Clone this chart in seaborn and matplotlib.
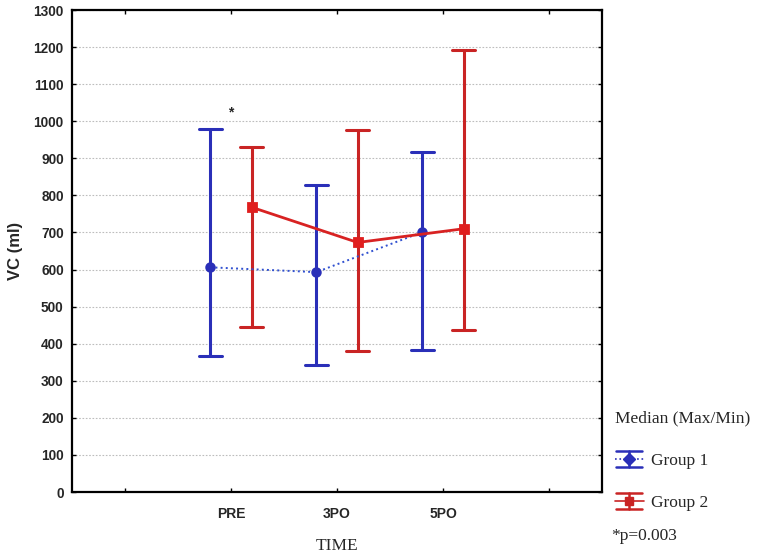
import numpy as np
import pandas as pd
import matplotlib
matplotlib.use("Agg")
import matplotlib.pyplot as plt
import seaborn as sns
from matplotlib.lines import Line2D
from matplotlib.legend_handler import HandlerBase

# ---- data ----
times = ["PRE", "3PO", "5PO"]
groups = ["Group 1", "Group 2"]
g1_median = [606, 593, 701]
g1_max = [980, 827, 918]
g1_min = [368, 343, 384]
g2_median = [768, 673, 710]
g2_max = [931, 976, 1193]
g2_min = [446, 379, 438]
yticks = list(range(0, 1301, 100))

rows = []
for g, med, mx, mn in [(groups[0], g1_median, g1_max, g1_min),
                       (groups[1], g2_median, g2_max, g2_min)]:
    for t, a, b, c in zip(times, mn, med, mx):
        for v in (a, b, c):
            rows.append({"time": t, "group": g, "vc": v})
df = pd.DataFrame(rows)

BLUE = "#2a2fb8"
RED = "#c92424"

sns.set_theme(style="white")
plt.rcParams["font.family"] = ["Liberation Sans", "DejaVu Sans"]

fig = plt.figure(figsize=(7.71, 5.54), dpi=100)
ax = fig.add_axes([72 / 771, 62 / 554, 530 / 771, 482 / 554])

sns.pointplot(data=df, x="time", y="vc", hue="group", order=times,
              hue_order=groups, estimator="median",
              errorbar=lambda v: (v.min(), v.max()),
              dodge=0.39, markers=["o", "s"], linestyles=[":", "-"],
              palette=[BLUE, RED], capsize=0.22,
              err_kws={"linewidth": 2.2}, markersize=6,
              legend=False, ax=ax)

for ln in ax.lines:
    m = ln.get_marker()
    if m not in (None, "None", "", " "):
        c = matplotlib.colors.to_hex(ln.get_color())
        if c.lower() == BLUE.lower():
            ln.set_linewidth(1.4)
            ln.set_color("#3050d0")
            ln.set_markerfacecolor(BLUE)
            ln.set_markeredgecolor(BLUE)
            ln.set_markersize(5.5)
        else:
            ln.set_linewidth(2.0)
            ln.set_color("#d82222")
            ln.set_markerfacecolor("#e01e1e")
            ln.set_markeredgecolor("#e01e1e")
        ln.set_zorder(5)

ax.set_xlim(-1.5, 3.5)
ax.set_ylim(0, 1300)
ax.set_xticks([-1, 0, 1, 2, 3])
ax.set_xticklabels(["", "PRE", "3PO", "5PO", ""], fontweight="bold", fontsize=10)
ax.set_yticks(yticks)
ax.set_yticklabels([str(v) for v in yticks], fontweight="bold", fontsize=9.8)
ax.tick_params(axis="both", direction="in", length=3, width=1, color="black",
               top=True, right=True, bottom=True, left=True)
ax.tick_params(axis="x", pad=11)
ax.tick_params(axis="y", pad=6)
ax.yaxis.grid(True, linestyle=(0, (1.5, 1.5)), color="#bdbdbd", linewidth=0.8)
ax.xaxis.grid(False)
for s in ax.spines.values():
    s.set_visible(True)
    s.set_color("black")
    s.set_linewidth(1.6)
ax.set_xlabel("")
ax.set_ylabel("VC (ml)", fontweight="bold", fontsize=12)
ax.yaxis.set_label_coords((23 - 72) / 530, 0.5)

ax.text(0, 1005, "*", ha="center", va="bottom", fontsize=10, fontweight="bold")

fig.text(337 / 771, 1 - 546 / 554, "TIME", ha="center", va="center",
         family="Liberation Serif", fontsize=12.5)


class ErrHandler(HandlerBase):
    def create_artists(self, legend, orig_handle, xdescent, ydescent,
                       width, height, fontsize, trans):
        col = orig_handle.get_color()
        mk = orig_handle.get_marker()
        ls = orig_handle.get_linestyle()
        x0, x1 = -xdescent, -xdescent + width
        xc = (x0 + x1) / 2
        yc = -ydescent + height / 2
        h = height * 0.45
        arts = [
            Line2D([x0 + 1, x1 - 1], [yc + h, yc + h], color=col, lw=1.8),
            Line2D([x0 + 1, x1 - 1], [yc - h, yc - h], color=col, lw=1.8),
            Line2D([xc, xc], [yc - h, yc + h], color=col, lw=1.8),
            Line2D([x0, x1], [yc, yc], color=col, lw=1.2, linestyle=ls),
            Line2D([xc], [yc], color=col, marker=mk, markersize=6,
                   linestyle="None"),
        ]
        for a in arts:
            a.set_transform(trans)
        return arts


handles = [Line2D([], [], color=BLUE, marker="D", linestyle=":"),
           Line2D([], [], color=RED, marker="s", linestyle="-")]
leg = fig.legend(handles, groups, loc="upper left",
                 bbox_to_anchor=(599 / 771, 1 - 395 / 554), frameon=False,
                 title="Median (Max/Min)", alignment="left",
                 prop={"family": "Liberation Serif", "size": 12.5},
                 title_fontproperties={"family": "Liberation Serif", "size": 12.5},
                 handler_map={Line2D: ErrHandler()}, handlelength=1.67,
                 handleheight=1.2, labelspacing=1.35, handletextpad=0.4)

fig.text(611 / 771, 1 - 536 / 554, "*p=0.003", ha="left", va="center",
         family="Liberation Serif", fontsize=12.5)

fig.savefig("out.png", dpi=100)
